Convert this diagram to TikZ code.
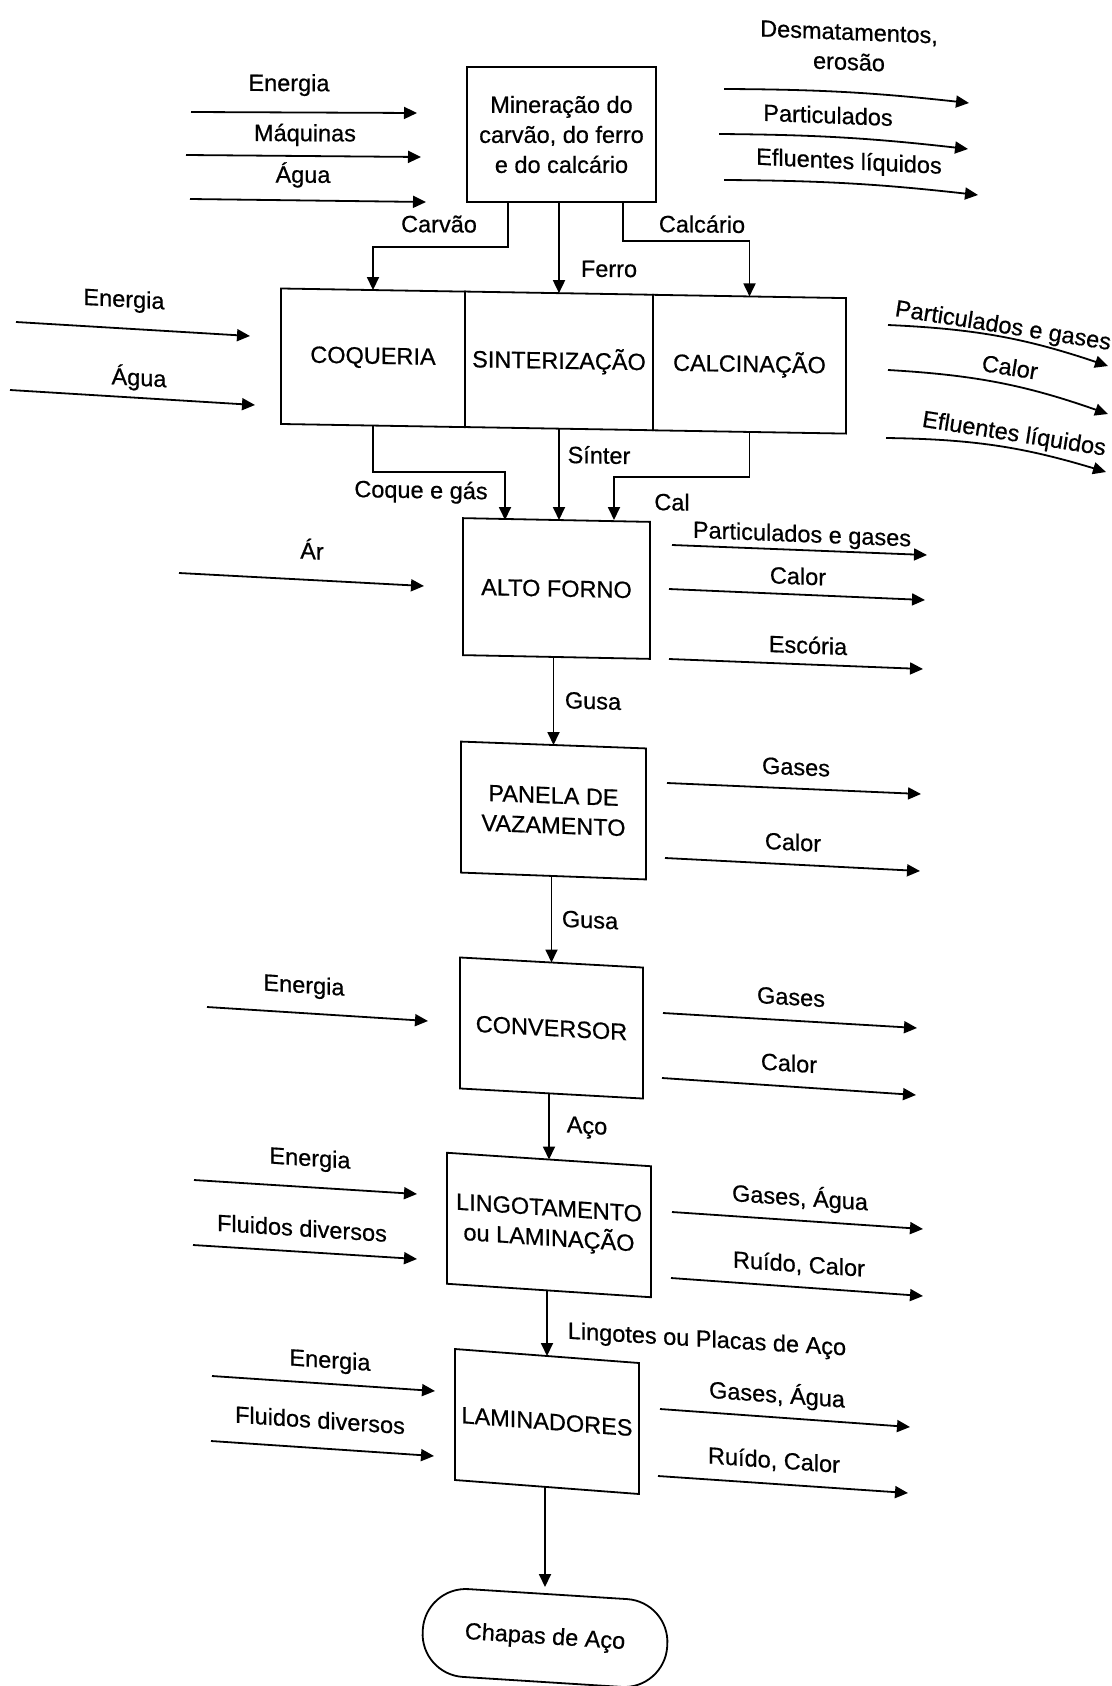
\documentclass[tikz,border=0pt]{standalone}
\usepackage{fontspec}
\setmainfont{Liberation Sans}[FakeBold=0.6]
\usetikzlibrary{arrows.meta}

% a straight flow arrow between two named free ends
\newcommand\flowline[3]{%
  \coordinate (#1-s) at (#2);
  \coordinate (#1-e) at (#3);
  \draw[arr] (#1-s) -- (#1-e);}
% the same, slightly curved
\newcommand\flowcurve[4]{%
  \coordinate (#1-s) at (#2);
  \coordinate (#1-e) at (#3);
  \draw[arr] (#1-s) to[bend left=#4] (#1-e);}

\begin{document}
\begin{tikzpicture}[x=1pt,y=-1pt,
  every node/.style={font=\fontsize{23.5}{30}\selectfont, inner sep=0pt, outer sep=0pt},
  lw/.style={line width=1.8pt},
  arr/.style={lw, -{Triangle[length=13pt,width=12pt]}},
  sl/.style={yslant=-#1, transform shape},
  box/.style={draw, lw, align=center, sl=#1},
  lbl/.style={align=center, sl=#1},
]
\path[use as bounding box, fill=white] (0,0) rectangle (1111,1686);

% ---------- process boxes ----------
\node[box=0, minimum width=189pt, minimum height=135pt] (mine) at (561.5,134.5)
  {Mineração do\\carvão, do ferro\\e do calcário};

\node[box=0.017, minimum width=184pt, minimum height=135.5pt] (coq) at (373,357.8) {COQUERIA};
\node[box=0.017, minimum width=188pt, minimum height=135.5pt] (sin) at (559,360.9) {SINTERIZAÇÃO};
\node[box=0.017, minimum width=193pt, minimum height=135.5pt] (cal) at (749.5,364.2) {CALCINAÇÃO};

\node[box=0.02, minimum width=187pt, minimum height=137pt] (af) at (556.5,588.5) {ALTO FORNO};
\node[box=0.037, minimum width=185pt, minimum height=131pt] (pan) at (553.5,810.5) {PANELA DE\\VAZAMENTO};
\node[box=0.055, minimum width=183pt, minimum height=131pt] (conv) at (551.5,1028) {CONVERSOR};
\node[box=0.066, minimum width=204pt, minimum height=131pt] (ling) at (549,1225)
  {LINGOTAMENTO\\ou LAMINAÇÃO};
\node[box=0.076, minimum width=184pt, minimum height=131pt] (lam) at (547,1421.5) {LAMINADORES};

\node[draw, lw, rounded corners=43pt, minimum width=245pt, minimum height=88pt,
      rotate=-3.6, transform shape] (chapas) at (545,1638) {Chapas de Aço};

% ---------- main connectors ----------
\coordinate (cvk) at (508,247);
\draw[arr] (cvk |- mine.south) -- (cvk) -| (coq.north);
\draw[arr] (sin.north |- mine.south) -- (sin.north);
\coordinate (cck) at (623,241);
\draw[arr] (cck |- mine.south) -- (cck) -| (cal.north);

\coordinate (cqk) at (505,472);
\draw[arr] (coq.south) |- (cqk) -- (cqk |- af.north);
\draw[arr] (sin.south) -- (sin.south |- af.north);
\coordinate (clk) at (614,477);
\draw[arr] (cal.south) |- (clk) -- (clk |- af.north);

\draw[arr] (pan.north |- af.south) -- (pan.north);
\draw[arr] (conv.north |- pan.south) -- (conv.north);
\draw[arr] (ling.north |- conv.south) -- (ling.north);
\draw[arr] (lam.north |- ling.south) -- (lam.north);
\coordinate (chk) at (545,1587);
\draw[arr] (lam.south -| chk) -- (chk);

% ---------- connector labels ----------
\node[lbl=0.005] (tCarvao) at (439,224) {Carvão};
\node[lbl=0.005] (tFerro) at (609,269) {Ferro};
\node[lbl=0.01] (tCalcario) at (702,224) {Calcário};
\node[lbl=0.017] (tCoque) at (421,492) {Coque e gás};
\node[lbl=0.017] (tSinter) at (599,455) {Sínter};
\node[lbl=0.017] (tCal) at (672,502) {Cal};
\node[lbl=0.03] (tGusa1) at (593,701) {Gusa};
\node[lbl=0.045] (tGusa2) at (590,920) {Gusa};
\node[lbl=0.06] (tAco) at (587,1128) {Aço};
\node[lbl=0.06] (tLingotes) at (707,1341) {Lingotes ou Placas de Aço};

% ---------- mining: inputs and outputs ----------
\flowline{inE}{191,112}{417,113}
\node[lbl=0.005] (tInE) at (289,85) {Energia};
\flowline{inM}{186,155}{421,157}
\node[lbl=0.005] (tInM) at (305,135) {Máquinas};
\flowline{inA}{190,199}{426,202}
\node[lbl=0.005] (tInA) at (303,175) {Água};

\flowcurve{ouD}{724,89}{969,103}{3}
\node[lbl=0.04] (tOuD) at (849,47) {Desmatamentos,\\erosão};
\flowcurve{ouP}{719,134}{968,149}{3}
\node[lbl=0.04] (tOuP) at (828,115) {Particulados};
\flowcurve{ouE}{724,180}{978,195}{3}
\node[lbl=0.05] (tOuE) at (849,163) {Efluentes líquidos};

% ---------- coke, sinter, calcination ----------
\flowline{cbE}{16,322}{250,336}
\node[lbl=0.055] (tCbE) at (124,301) {Energia};
\flowline{cbA}{10,390}{255,405}
\node[lbl=0.055] (tCbA) at (139,378) {Água};

\flowcurve{cbP}{888,325}{1108,366}{8}
\node[rotate=-9] (tCbP) at (1003,327) {Particulados e gases};
\flowcurve{cbC}{888,370}{1108,414}{8}
\node[rotate=-9] (tCbC) at (1010,367) {Calor};
\flowcurve{cbF}{886,438}{1106,472}{8}
\node[rotate=-9] (tCbF) at (1014,435) {Efluentes líquidos};

% ---------- blast furnace ----------
\flowline{afA}{179,573}{424,586}
\node[lbl=0.05] (tAfA) at (312,549) {Ár};
\flowline{afP}{672,545}{927,555}
\node[lbl=0.04] (tAfP) at (802,536) {Particulados e gases};
\flowline{afC}{669,589}{925,600}
\node[lbl=0.04] (tAfC) at (798,576) {Calor};
\flowline{afS}{669,659}{923,669}
\node[lbl=0.04] (tAfS) at (808,645) {Escória};

% ---------- ladle ----------
\flowline{paG}{667,783}{921,794}
\node[lbl=0.045] (tPaG) at (796,767) {Gases};
\flowline{paC}{665,858}{920,871}
\node[lbl=0.05] (tPaC) at (793,842) {Calor};

% ---------- converter ----------
\flowline{coE}{207,1007}{428,1021}
\node[lbl=0.065] (tCoE) at (304,987) {Energia};
\flowline{coG}{663,1013}{917,1028}
\node[lbl=0.06] (tCoG) at (791,997) {Gases};
\flowline{coC}{662,1078}{916,1095}
\node[lbl=0.065] (tCoC) at (789,1063) {Calor};

% ---------- casting or rolling ----------
\flowline{liE}{194,1180}{417,1194}
\node[lbl=0.065] (tLiE) at (310,1160) {Energia};
\flowline{liF}{193,1245}{417,1259}
\node[lbl=0.065] (tLiF) at (302,1228) {Fluidos diversos};
\flowline{liG}{672,1212}{923,1229}
\node[lbl=0.068] (tLiG) at (800,1198) {Gases, Água};
\flowline{liR}{671,1278}{923,1296}
\node[lbl=0.07] (tLiR) at (799,1265) {Ruído, Calor};

% ---------- rolling mills ----------
\flowline{laE}{212,1376}{435,1391}
\node[lbl=0.068] (tLaE) at (330,1362) {Energia};
\flowline{laF}{211,1441}{434,1456}
\node[lbl=0.068] (tLaF) at (320,1420) {Fluidos diversos};
\flowline{laG}{660,1409}{910,1427}
\node[lbl=0.072] (tLaG) at (777,1395) {Gases, Água};
\flowline{laR}{658,1476}{908,1493}
\node[lbl=0.072] (tLaR) at (774,1461) {Ruído, Calor};
\end{tikzpicture}
\end{document}
